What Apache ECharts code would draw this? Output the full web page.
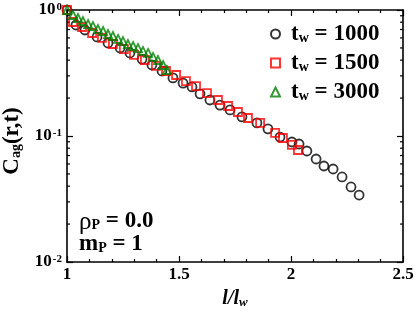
<!DOCTYPE html>
<html><head><meta charset="utf-8">
<script src="https://cdn.jsdelivr.net/npm/echarts@6/dist/echarts.min.js"></script>
<style>html,body{margin:0;padding:0;background:#fff}#c{width:415px;height:311px}</style>
</head><body><div id="c"></div>
<script>
// ---- data ----
const seriesNames = ['1000', '1500', '3000'];
const tw1000X = [1.000,1.040,1.080,1.134,1.183,1.237,1.281,1.335,1.379,1.424,1.473,1.518,1.558,1.594,1.638,1.683,1.728,1.781,1.848,1.897,1.951,2.004,2.036,2.071,2.112,2.147,2.188,2.228,2.268,2.304];
const tw1000Y = [1.0,0.760,0.694,0.611,0.547,0.499,0.456,0.408,0.366,0.328,0.289,0.263,0.245,0.216,0.193,0.176,0.161,0.142,0.127,0.114,0.098,0.0896,0.0864,0.076,0.0657,0.0578,0.0547,0.0473,0.0394,0.034];
const tw1500X = [1.000,1.027,1.067,1.112,1.156,1.205,1.254,1.299,1.348,1.397,1.442,1.487,1.531,1.576,1.625,1.674,1.719,1.763,1.808,1.862,1.929,1.964,2.004,2.031];
const tw1500Y = [1.0,0.803,0.733,0.657,0.600,0.537,0.490,0.440,0.401,0.360,0.328,0.305,0.273,0.249,0.219,0.193,0.173,0.155,0.139,0.127,0.106,0.0964,0.0849,0.0774];
const tw3000X = [1.000,1.027,1.049,1.071,1.094,1.116,1.138,1.161,1.183,1.205,1.228,1.250,1.272,1.295,1.317,1.339,1.362,1.384,1.406,1.429,1.446];
const tw3000Y = [1.0,0.913,0.864,0.818,0.774,0.746,0.707,0.681,0.645,0.622,0.589,0.567,0.537,0.518,0.499,0.473,0.456,0.424,0.401,0.366,0.334];
const xTickLabels = ['1', '1.5', '2', '2.5'];
const yDecades = [-2, -1, 0];

const F = 'Liberation Serif';
const chart = echarts.init(document.getElementById('c'), null, {renderer: 'canvas'});
const zip = (xs, ys) => xs.map((x, i) => [x, ys[i]]);
const axLine = {show: true, lineStyle: {color: '#000', width: 1.6}};
const tickStyle = {color: '#000', width: 1.2};
const rich = {
  b: {fontFamily: F, fontWeight: 'bold', fontSize: 23, color: '#000', lineHeight: 22, verticalAlign: 'top'},
  sub: {fontFamily: F, fontWeight: 'bold', fontSize: 14, color: '#000', lineHeight: 14, verticalAlign: 'bottom', padding: [14, 0, 0, 0]},
  g: {fontFamily: F, fontSize: 25, color: '#000', lineHeight: 22, verticalAlign: 'top'}
};
const mk = (name, data, symbol, size, color) => ({
  type: 'scatter', name, data, symbol, symbolSize: size, clip: false,
  itemStyle: {color: 'rgba(0,0,0,0)', borderColor: color, borderWidth: 1.8}
});

chart.setOption({
  animation: false,
  backgroundColor: '#fff',
  grid: {left: 67, right: 12, top: 10, bottom: 49, containLabel: false, outerBoundsMode: 'none'},
  xAxis: [{
    type: 'value', min: 1, max: 2.5, interval: 0.5,
    axisLine: axLine, splitLine: {show: false},
    axisTick: {inside: true, length: 6, lineStyle: tickStyle},
    minorTick: {show: true, splitNumber: 5, length: 3, lineStyle: tickStyle},
    axisLabel: {margin: 4, fontFamily: F, fontWeight: 'bold', fontSize: 17, color: '#000',
      formatter: v => xTickLabels[Math.round((v - 1) / 0.5)]},
    name: '{i|l/l}{is|w}', nameLocation: 'middle', nameGap: 27, nameMoveOverlap: false,
    nameTextStyle: {rich: {
      i: {fontFamily: F, fontStyle: 'italic', fontWeight: 'bold', fontSize: 20, color: '#000', lineHeight: 20, verticalAlign: 'top'},
      is: {fontFamily: F, fontStyle: 'italic', fontWeight: 'bold', fontSize: 13, color: '#000', lineHeight: 13, verticalAlign: 'bottom', padding: [12, 0, 0, 0]}
    }}
  }, {
    type: 'value', position: 'top', min: 1, max: 2.5, interval: 0.5,
    axisLine: axLine, splitLine: {show: false}, axisLabel: {show: false},
    axisTick: {inside: true, length: 6, lineStyle: tickStyle},
    minorTick: {show: true, splitNumber: 5, length: 3, lineStyle: tickStyle}
  }],
  yAxis: [{
    type: 'log', logBase: 10, min: 0.01, max: 1,
    axisLine: axLine, splitLine: {show: false},
    axisTick: {inside: true, length: 6, lineStyle: tickStyle},
    axisLabel: {margin: 5, formatter: v => '{t|10}{s|' + Math.round(Math.log10(v)) + '}',
      rich: {
        t: {fontFamily: F, fontWeight: 'bold', fontSize: 17, color: '#000', lineHeight: 17},
        s: {fontFamily: F, fontWeight: 'bold', fontSize: 11, color: '#000', lineHeight: 11, verticalAlign: 'top', padding: [0, 0, 8, 1]}
      }},
    name: '{b|C}{sub|ag}{b|(r,t)}', nameLocation: 'middle', nameGap: 37, nameRotate: 90,
    nameTextStyle: {rich, padding: [0, 10, 0, 0]}
  }, {
    type: 'log', logBase: 10, min: 0.01, max: 1, position: 'right',
    axisLine: axLine, splitLine: {show: false}, axisLabel: {show: false},
    axisTick: {inside: true, length: 6, lineStyle: tickStyle}
  }],
  legend: {
    orient: 'vertical', left: 265, top: 12, itemGap: 0, itemWidth: 9, itemHeight: 9,
    data: seriesNames,
    formatter: n => '{b|t}{sub|w}{b| = ' + n + '}',
    textStyle: {rich, padding: [0, 0, 0, 6]}
  },
  series: [
    mk(seriesNames[0], zip(tw1000X, tw1000Y), 'circle', 9, '#000'),
    mk(seriesNames[1], zip(tw1500X, tw1500Y), 'rect', 8, '#ff0000'),
    mk(seriesNames[2], zip(tw3000X, tw3000Y), 'triangle', 8, '#008000')
  ]
});

// log-scale minor ticks (2..9 per decade) on both vertical axes, placed through the axis scale
const extra = [
  {type: 'text', left: 79, top: 204, style: {text: '{g|ρ}{sub|P}{b| = 0.0}', rich}},
  {type: 'text', left: 79, top: 227, style: {text: '{b|m}{sub|P}{b| = 1}', rich}}
];
yDecades.slice(0, 2).forEach(d => {
  for (let k = 2; k <= 9; k++) {
    const v = k * Math.pow(10, d);
    const pL = chart.convertToPixel({xAxisIndex: 0, yAxisIndex: 0}, [1, v]);
    const pR = chart.convertToPixel({xAxisIndex: 0, yAxisIndex: 0}, [2.5, v]);
    extra.push({type: 'line', shape: {x1: pL[0], y1: pL[1], x2: pL[0] + 3, y2: pL[1]}, style: {stroke: '#000', lineWidth: 1.2}});
    extra.push({type: 'line', shape: {x1: pR[0], y1: pR[1], x2: pR[0] - 3, y2: pR[1]}, style: {stroke: '#000', lineWidth: 1.2}});
  }
});
chart.setOption({graphic: extra});
</script></body></html>
